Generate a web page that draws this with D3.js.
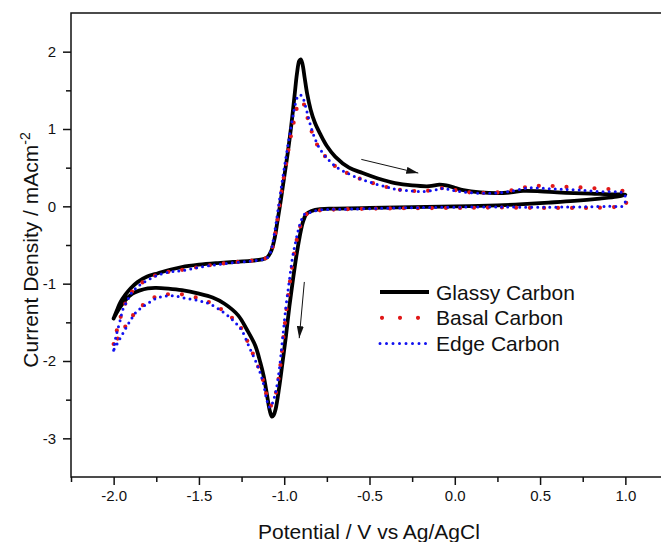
<!DOCTYPE html>
<html>
<head>
<meta charset="utf-8">
<script src="https://cdn.jsdelivr.net/npm/d3@7"></script>
<style>
body { margin:0; background:#fff; }
text { font-family: "Liberation Sans", Arial, sans-serif; fill:#111; }
</style>
</head>
<body>
<div class="visualisation"></div>
<script>
// [potential (V vs Ag/AgCl), current density (mA cm-2)], forward scan then reverse
var glassy = [
	[-2.00,-1.45],[-1.98,-1.34],[-1.96,-1.24],[-1.93,-1.14],[-1.90,-1.06],[-1.86,-0.98],
	[-1.80,-0.905],[-1.74,-0.865],[-1.67,-0.82],[-1.60,-0.785],[-1.50,-0.755],[-1.40,-0.735],
	[-1.30,-0.72],[-1.20,-0.705],[-1.13,-0.685],[-1.10,-0.66],[-1.075,-0.57],[-1.055,-0.40],
	[-1.04,-0.20],[-1.02,0.08],[-1.00,0.38],[-0.98,0.68],[-0.96,1.02],[-0.94,1.42],
	[-0.925,1.72],[-0.912,1.88],[-0.903,1.90],[-0.893,1.84],[-0.88,1.66],[-0.865,1.45],
	[-0.845,1.25],[-0.82,1.08],[-0.79,0.94],[-0.75,0.78],[-0.70,0.64],[-0.62,0.50],
	[-0.54,0.43],[-0.45,0.36],[-0.35,0.30],[-0.25,0.27],[-0.15,0.26],[-0.09,0.28],
	[-0.05,0.27],[0.00,0.24],[0.05,0.21],[0.15,0.18],[0.25,0.17],[0.33,0.18],[0.40,0.20],
	[0.50,0.195],[0.60,0.18],[0.70,0.17],[0.80,0.165],[0.90,0.155],[1.00,0.15],
	[0.95,0.125],[0.85,0.10],[0.70,0.07],[0.55,0.048],[0.40,0.028],[0.25,0.013],[0.00,0.00],
	[-0.25,-0.01],[-0.50,-0.02],[-0.70,-0.03],[-0.79,-0.035],[-0.84,-0.06],[-0.87,-0.10],
	[-0.89,-0.20],[-0.91,-0.40],[-0.93,-0.66],[-0.95,-0.97],[-0.97,-1.30],[-0.99,-1.68],
	[-1.01,-2.02],[-1.03,-2.35],[-1.05,-2.62],[-1.062,-2.70],[-1.072,-2.72],[-1.085,-2.64],
	[-1.10,-2.45],[-1.12,-2.20],[-1.14,-2.02],[-1.17,-1.80],[-1.22,-1.59],[-1.27,-1.41],
	[-1.35,-1.26],[-1.42,-1.18],[-1.50,-1.13],[-1.60,-1.085],[-1.68,-1.065],[-1.75,-1.055],
	[-1.80,-1.06],[-1.85,-1.09],[-1.89,-1.13],[-1.93,-1.21],[-1.97,-1.33],[-2.00,-1.45]
];

var basal = [
	[-2.00,-1.78],[-1.99,-1.68],[-1.977,-1.57],[-1.96,-1.44],[-1.947,-1.33],[-1.92,-1.21],
	[-1.898,-1.12],[-1.86,-1.03],[-1.82,-0.97],[-1.74,-0.88],[-1.66,-0.84],[-1.596,-0.82],
	[-1.50,-0.785],[-1.40,-0.75],[-1.30,-0.725],[-1.20,-0.705],[-1.13,-0.685],[-1.10,-0.66],
	[-1.08,-0.60],[-1.065,-0.50],[-1.045,-0.25],[-1.025,0.05],[-1.005,0.34],[-0.985,0.60],
	[-0.965,0.86],[-0.945,1.08],[-0.93,1.24],[-0.915,1.33],[-0.90,1.36],[-0.885,1.32],
	[-0.87,1.20],[-0.85,1.04],[-0.824,0.88],[-0.79,0.73],[-0.74,0.60],[-0.696,0.51],
	[-0.64,0.44],[-0.56,0.36],[-0.48,0.30],[-0.40,0.25],[-0.345,0.22],[-0.25,0.20],
	[-0.19,0.195],[-0.12,0.215],[-0.07,0.235],[-0.02,0.22],[0.05,0.19],[0.144,0.175],
	[0.25,0.18],[0.339,0.21],[0.40,0.24],[0.47,0.27],[0.535,0.25],[0.60,0.27],[0.66,0.25],
	[0.73,0.245],[0.80,0.235],[0.87,0.23],[0.95,0.21],[1.00,0.18],
	[1.00,0.02],[0.95,-0.005],[0.80,-0.02],[0.632,-0.02],[0.45,-0.02],[0.25,-0.015],
	[0.046,-0.02],[-0.30,-0.025],[-0.60,-0.035],[-0.736,-0.045],[-0.80,-0.055],[-0.85,-0.09],
	[-0.875,-0.11],[-0.895,-0.19],[-0.915,-0.33],[-0.93,-0.47],[-0.945,-0.65],[-0.965,-0.95],
	[-0.985,-1.30],[-1.005,-1.70],[-1.025,-2.10],[-1.045,-2.38],[-1.065,-2.53],[-1.08,-2.58],
	[-1.095,-2.52],[-1.12,-2.28],[-1.16,-2.03],[-1.205,-1.80],[-1.25,-1.58],[-1.302,-1.45],
	[-1.37,-1.33],[-1.44,-1.24],[-1.50,-1.19],[-1.576,-1.15],[-1.625,-1.13],[-1.693,-1.14],
	[-1.74,-1.16],[-1.79,-1.21],[-1.83,-1.28],[-1.869,-1.36],[-1.90,-1.45],[-1.927,-1.54],
	[-1.955,-1.64],[-1.98,-1.72],[-2.00,-1.78]
];

var edge = [
	[-2.00,-1.86],[-1.99,-1.72],[-1.977,-1.60],[-1.96,-1.46],[-1.947,-1.34],[-1.92,-1.22],
	[-1.898,-1.13],[-1.86,-1.04],[-1.82,-0.98],[-1.74,-0.89],[-1.66,-0.845],[-1.596,-0.83],
	[-1.50,-0.79],[-1.40,-0.755],[-1.30,-0.73],[-1.20,-0.71],[-1.13,-0.69],[-1.10,-0.665],
	[-1.08,-0.59],[-1.068,-0.48],[-1.05,-0.25],[-1.03,0.05],[-1.01,0.35],[-0.99,0.63],
	[-0.97,0.90],[-0.95,1.15],[-0.935,1.32],[-0.92,1.42],[-0.905,1.44],[-0.89,1.40],
	[-0.87,1.25],[-0.85,1.08],[-0.824,0.90],[-0.79,0.74],[-0.74,0.60],[-0.696,0.51],
	[-0.64,0.44],[-0.56,0.36],[-0.48,0.30],[-0.40,0.25],[-0.345,0.22],[-0.25,0.20],
	[-0.19,0.19],[-0.12,0.21],[-0.07,0.23],[-0.02,0.21],[0.05,0.185],[0.144,0.17],
	[0.25,0.175],[0.339,0.20],[0.437,0.24],[0.535,0.23],[0.63,0.22],[0.73,0.21],
	[0.85,0.19],[0.99,0.17],[1.00,0.10],
	[0.99,0.01],[0.90,0.00],[0.632,-0.01],[0.30,-0.01],[0.046,-0.01],[-0.30,-0.02],
	[-0.60,-0.035],[-0.736,-0.04],[-0.80,-0.05],[-0.85,-0.08],[-0.88,-0.10],[-0.90,-0.18],
	[-0.92,-0.33],[-0.935,-0.48],[-0.951,-0.655],[-0.97,-0.96],[-0.99,-1.30],[-1.01,-1.72],
	[-1.03,-2.13],[-1.05,-2.40],[-1.07,-2.55],[-1.085,-2.60],[-1.10,-2.52],[-1.127,-2.25],
	[-1.16,-2.04],[-1.205,-1.82],[-1.25,-1.60],[-1.302,-1.47],[-1.37,-1.35],[-1.44,-1.26],
	[-1.50,-1.22],[-1.576,-1.19],[-1.64,-1.16],[-1.693,-1.16],[-1.74,-1.18],[-1.79,-1.24],
	[-1.83,-1.30],[-1.869,-1.37],[-1.90,-1.47],[-1.927,-1.57],[-1.955,-1.68],[-1.98,-1.78],
	[-2.00,-1.86]
];

var seriesNames = ["Glassy Carbon", "Basal Carbon", "Edge Carbon"];
var xTicks = [-2.0, -1.5, -1.0, -0.5, 0.0, 0.5, 1.0];
var xMinor = [-2.25, -1.75, -1.25, -0.75, -0.25, 0.25, 0.75, 1.25];
var yTicks = [-3, -2, -1, 0, 1, 2];
var yMinor = [-2.5, -1.5, -0.5, 0.5, 1.5];
// scan direction arrows: [x1, y1, x2, y2] in data units
var arrows = [[-0.548, 0.607, -0.214, 0.43], [-0.882, -0.978, -0.912, -1.705]];

var margin = {top:13, right:-7, bottom:65, left:71},
	width = 661 - margin.left - margin.right,
	height = 542 - margin.top - margin.bottom;

var root = d3.select(".visualisation").append("svg")
	.attr("width", 661)
	.attr("height", 542)
	.style("display", "block");

root.append("defs").append("marker")
	.attr("id", "head")
	.attr("markerUnits", "userSpaceOnUse")
	.attr("viewBox", "0 0 12 7")
	.attr("markerWidth", 12)
	.attr("markerHeight", 7)
	.attr("refX", 12)
	.attr("refY", 3.5)
	.attr("orient", "auto")
  .append("path")
	.attr("d", "M0,0L12,3.5L0,7Z")
	.attr("fill", "#111");

var svg = root.append("g")
	.attr("transform", "translate(" + margin.left + "," + margin.top + ")");

var x = d3.scaleLinear().domain([-2.25, 1.25]).range([0, width]);
var y = d3.scaleLinear().domain([-3.5, 2.5]).range([height, 0]);

// axes
function styleAxis(g){
	g.select(".domain").remove();
	g.selectAll(".tick line").attr("stroke", "#111").attr("stroke-width", 1.5);
	g.selectAll(".tick text").style("font-size", "15px").attr("fill", "#111");
}

svg.append("g")
	.attr("transform", "translate(0," + height + ")")
	.call(d3.axisBottom(x).tickValues(xTicks).tickSize(8).tickPadding(5)
		.tickFormat(function(d){ return d.toFixed(1); }))
	.call(styleAxis);

svg.append("g")
	.attr("transform", "translate(0," + height + ")")
	.call(d3.axisBottom(x).tickValues(xMinor).tickSize(5).tickFormat(""))
	.call(styleAxis);

svg.append("g")
	.call(d3.axisLeft(y).tickValues(yTicks).tickSize(8).tickPadding(7)
		.tickFormat(function(d){ return String(d); }))
	.call(styleAxis);

svg.append("g")
	.call(d3.axisLeft(y).tickValues(yMinor).tickSize(5).tickFormat(""))
	.call(styleAxis);

svg.append("rect")
	.attr("width", width)
	.attr("height", height)
	.attr("fill", "none")
	.attr("stroke", "#111")
	.attr("stroke-width", 1.5);

// curves
var line = d3.line()
	.x(function(d){ return x(d[0]); })
	.y(function(d){ return y(d[1]); })
	.curve(d3.curveCatmullRom.alpha(0.5));

var styles = [
	{data: glassy, color: "#000", width: 3.8, dash: null},
	{data: basal, color: "#e01818", width: 4.2, dash: "0 14"},
	{data: edge, color: "#1010f0", width: 3, dash: "0 6"}
];

styles.forEach(function(s){
	svg.append("path")
		.attr("d", line(s.data))
		.attr("fill", "none")
		.attr("stroke", s.color)
		.attr("stroke-width", s.width)
		.attr("stroke-linecap", "round")
		.attr("stroke-linejoin", "round")
		.attr("stroke-dasharray", s.dash);
});

// arrows
svg.selectAll(".arrow").data(arrows).enter().append("line")
	.attr("class", "arrow")
	.attr("x1", function(d){ return x(d[0]); })
	.attr("y1", function(d){ return y(d[1]); })
	.attr("x2", function(d){ return x(d[2]); })
	.attr("y2", function(d){ return y(d[3]); })
	.attr("stroke", "#111")
	.attr("stroke-width", 1)
	.attr("marker-end", "url(#head)");

// legend
var legendDash = [null, "0 18", "0 6.5"];
var legend = root.append("g").attr("transform", "translate(380,292)");
seriesNames.forEach(function(name, i){
	var row = legend.append("g").attr("transform", "translate(0," + (i * 25.8) + ")");
	row.append("line")
		.attr("x1", i == 1 ? 2 : 0).attr("x2", 49)
		.attr("stroke", styles[i].color)
		.attr("stroke-width", styles[i].width)
		.attr("stroke-linecap", i == 0 ? "butt" : "round")
		.attr("stroke-dasharray", legendDash[i]);
	row.append("text")
		.attr("x", 56)
		.attr("dy", "0.36em")
		.style("font-size", "21px")
		.text(name);
});

// axis titles
root.append("text")
	.attr("x", 369)
	.attr("y", 539)
	.attr("text-anchor", "middle")
	.style("font-size", "21px")
	.text("Potential / V vs Ag/AgCl");

var yLabel = root.append("text")
	.attr("transform", "translate(38,250) rotate(-90)")
	.attr("text-anchor", "middle")
	.style("font-size", "21px");
yLabel.append("tspan").text("Current Density / mAcm");
yLabel.append("tspan").attr("dy", -8).style("font-size", "14px").text("-2");
</script>
</body>
</html>
